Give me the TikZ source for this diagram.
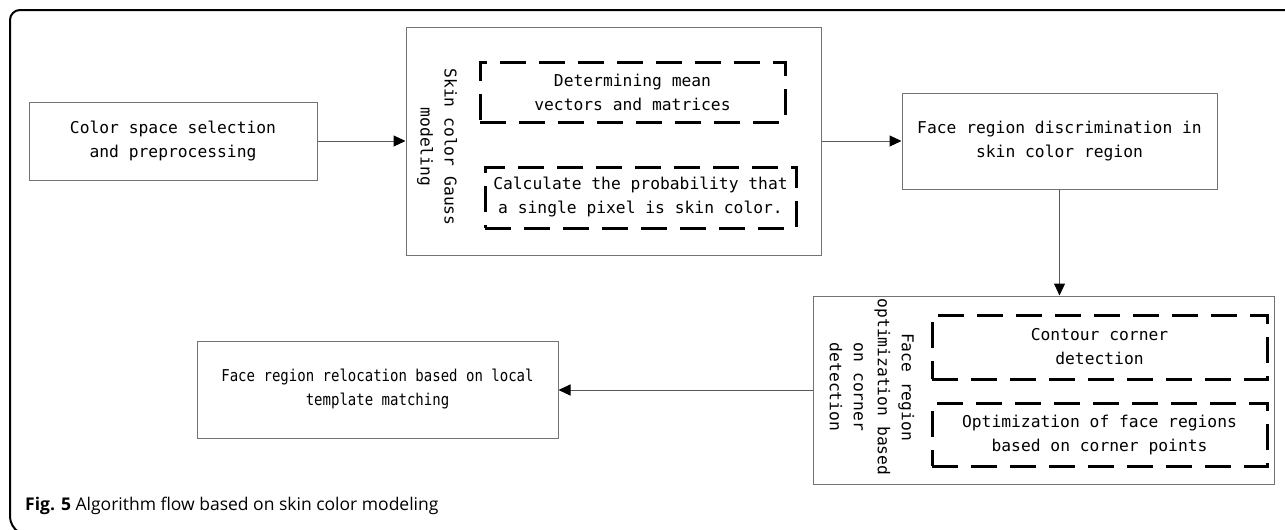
\documentclass[tikz,border=0pt]{standalone}
\usepackage{fontspec}
\setmainfont{Open Sans}
\setmonofont{DejaVu Sans Mono}
\newfontfamily\narrowmono[FakeStretch=0.86]{DejaVu Sans Mono}
\usetikzlibrary{arrows.meta}

\tikzset{
  stepbox/.style={draw=black!55,line width=1pt,align=center,
    font=\ttfamily\fontsize{16.3}{24}\selectfont,inner sep=0pt},
  subbox/.style={draw=black,line width=3pt,dash pattern=on 26pt off 13pt,
    align=center,font=\ttfamily\fontsize{16.3}{24}\selectfont,inner sep=0pt},
  sidelabel/.style={rotate=-90,align=center,
    font=\ttfamily\fontsize{16.3}{24}\selectfont,inner sep=0pt},
  flow/.style={draw=black!65,line width=1pt,-{Triangle[length=12pt,width=11pt,color=black]}}
}

\begin{document}
\begin{tikzpicture}[x=1pt,y=-1pt]
  \useasboundingbox (0,0) rectangle (1285,530);
  % frame of the figure
  \draw[line width=2pt,rounded corners=10pt] (1290,10) -- (10,10) -- (10,527) -- (22,534);
  % boxes
  \node[stepbox,minimum width=288pt,minimum height=78pt] (colsel) at (173,141)
    {Color space selection\\and preprocessing};
  \node[stepbox,minimum width=415pt,minimum height=228pt] (gauss) at (613.5,141) {};
  \node[sidelabel] (gausslab) at (437,147) {Skin color Gauss\\modeling};
  \node[subbox,minimum width=305pt,minimum height=60pt] (meanvec) at (632.5,92)
    {Determining mean\\vectors and matrices};
  \node[subbox,minimum width=311pt,minimum height=61pt] (prob) at (640.5,197.5)
    {Calculate the probability that\\a single pixel is skin color.};
  \node[stepbox,minimum width=315pt,minimum height=96pt] (discr) at (1059.5,141)
    {Face region discrimination in\\skin color region};
  \node[stepbox,minimum width=461pt,minimum height=188pt] (optim) at (1043.5,390) {};
  \node[sidelabel] (optimlab) at (872,387)
    {Face region\\optimization based\\on corner\\detection};
  \node[subbox,minimum width=335pt,minimum height=64pt] (contour) at (1099.5,347)
    {Contour corner\\detection};
  \node[subbox,minimum width=335pt,minimum height=63pt] (cornopt) at (1099.5,434.5)
    {Optimization of face regions\\based on corner points};
  \node[stepbox,minimum width=361pt,minimum height=97pt,
    font=\narrowmono\fontsize{16.3}{24}\selectfont] (reloc) at (377.5,389.5)
    {Face region relocation based on local\\template matching};
  % arrows
  \draw[flow] (colsel.east) -- (gauss.west);
  \draw[flow] (gauss.east) -- (discr.west);
  \draw[flow] (discr.south) -- (discr.south |- optim.north);
  \draw[flow] (optim.west) -- (optim.west -| reloc.east);
  % caption
  \node[anchor=west,inner sep=0pt,font=\fontsize{17.5}{20}\selectfont] (cap) at (25,506)
    {\textbf{Fig. 5} Algorithm flow based on skin color modeling};
\end{tikzpicture}
\end{document}
